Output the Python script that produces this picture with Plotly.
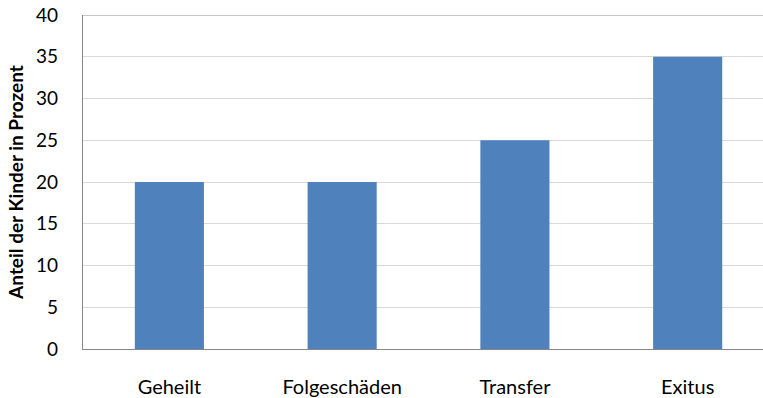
import plotly.graph_objects as go

# Outcome categories and share of children (percent)
categories = ["Geheilt", "Folgeschäden", "Transfer", "Exitus"]
anteil = [20, 20, 25, 35]
y_ticks = [0, 5, 10, 15, 20, 25, 30, 35, 40]

FONT = "Lato"

fig = go.Figure(
    go.Bar(
        x=categories,
        y=anteil,
        width=0.4,
        marker=dict(color="#4F81BD", line=dict(width=0)),
        hoverinfo="x+y",
    )
)

fig.update_layout(
    width=763,
    height=398,
    margin=dict(l=83, r=0, t=15, b=47),
    paper_bgcolor="white",
    plot_bgcolor="white",
    showlegend=False,
    font=dict(family=FONT, color="#000000"),
    shapes=[
        # upper frame line of the plot area
        dict(type="line", xref="paper", yref="y", x0=0, x1=1, y0=40, y1=40,
             line=dict(color="#B3B3B3", width=1.3), layer="below"),
    ],
)

fig.update_xaxes(
    type="category",
    range=[-0.5, 3.436],
    showgrid=False,
    showline=True,
    linecolor="#868686",
    linewidth=1.3,
    ticks="",
    tickfont=dict(family=FONT, size=20, color="#000000"),
    ticklabelstandoff=20,
    zeroline=False,
)

fig.update_yaxes(
    range=[0, 40],
    tickvals=y_ticks,
    showgrid=True,
    gridcolor="#D9D9D9",
    gridwidth=1.3,
    showline=True,
    linecolor="#868686",
    linewidth=1.3,
    ticks="",
    tickfont=dict(family=FONT, size=19, color="#000000"),
    ticklabelstandoff=20,
    zeroline=False,
    title=dict(
        text="<b>Anteil der Kinder in Prozent</b>",
        font=dict(family=FONT, size=19, color="#000000"),
        standoff=7,
    ),
)

fig.write_html("out.html")
